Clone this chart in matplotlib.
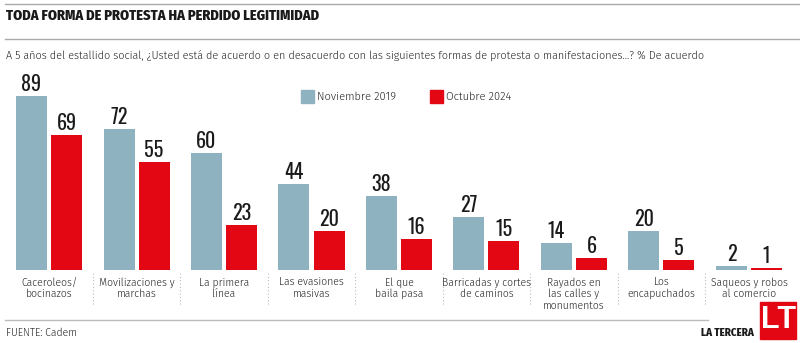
import matplotlib
matplotlib.use("Agg")
import matplotlib.pyplot as plt
import numpy as np
from matplotlib.patches import Rectangle

categories = ["Caceroleos/\nbocinazos", "Movilizaciones y\nmarchas", "La primera\nlínea",
              "Las evasiones\nmasivas", "El que\nbaila pasa", "Barricadas y cortes\nde caminos",
              "Rayados en\nlas calles y\nmonumentos", "Los\nencapuchados",
              "Saqueos y robos\nal comercio"]
nov_2019 = [89, 72, 60, 44, 38, 27, 14, 20, 2]
oct_2024 = [69, 55, 23, 20, 16, 15, 6, 5, 1]
series_names = ["Noviembre 2019", "Octubre 2024"]

BLUE = "#8fb2c0"
RED = "#e30613"
NUM_FONT = ["Oswald", "Roboto Condensed", "Liberation Sans Narrow", "DejaVu Sans"]
TITLE_FONT = ["Fira Sans Condensed", "Roboto Condensed", "Open Sans Condensed", "DejaVu Sans"]
BODY_FONT = ["Fira Sans", "Source Sans 3", "Source Sans Pro", "Lato", "DejaVu Sans"]

W, H = 800, 343
fig = plt.figure(figsize=(W / 100, H / 100), dpi=100)

def fx(px):
    return px / W

def fy(py):
    return 1 - py / H

# header
fig.add_artist(plt.Line2D([fx(5), 1], [fy(4), fy(4)], color="#aaaaaa", lw=1))
fig.text(fx(6), fy(16), "TODA FORMA DE PROTESTA HA PERDIDO LEGITIMIDAD",
         fontsize=10.3, fontweight=800, color="#1a1a1a", va="center",
         family=TITLE_FONT)
fig.add_artist(plt.Line2D([fx(5), 1], [fy(39), fy(39)], color="#aaaaaa", lw=1))
fig.text(fx(6), fy(56),
         "A 5 años del estallido social, ¿Usted está de acuerdo o en desacuerdo con las siguientes "
         "formas de protesta o manifestaciones...? % De acuerdo",
         fontsize=7.8, fontweight=300, color="#222222", va="center", family=BODY_FONT)

# bars
pitch = 87.5
x0 = 49
ax = fig.add_axes([0, 73 / H, 1, 195.5 / H])
ax.set_xlim(-x0 / pitch, (W - x0) / pitch)
ax.set_ylim(0, 100)
ax.axis("off")

x = np.arange(len(categories))
bw = 31 / pitch
off = 17.5 / pitch
ax.bar(x - off, nov_2019, bw, color=BLUE, label=series_names[0])
ax.bar(x + off, oct_2024, bw, color=RED, label=series_names[1])

for i in range(len(categories)):
    ax.annotate(str(nov_2019[i]), (x[i] - off, nov_2019[i]), xytext=(0, 1.5),
                textcoords="offset points", ha="center", va="bottom",
                fontsize=14.5, fontweight=300, color="#1a1a1a", family=NUM_FONT)
    ax.annotate(str(oct_2024[i]), (x[i] + off, oct_2024[i]), xytext=(0, 1.5),
                textcoords="offset points", ha="center", va="bottom",
                fontsize=14.5, fontweight=300, color="#1a1a1a", family=NUM_FONT)
    fig.text(fx(x0 + pitch * i), fy(277), categories[i], ha="center", va="top",
             fontsize=7.5, fontweight=300, color="#222222", linespacing=1.12,
             family=BODY_FONT)

# dotted separators
for i in range(len(categories) - 1):
    xs = fx(x0 + pitch * (i + 0.5))
    fig.add_artist(plt.Line2D([xs, xs], [fy(273), fy(306)], color="#bbbbbb",
                              lw=0.8, ls=(0, (1, 2))))

# legend
for (lx, col, name) in [(301, BLUE, series_names[0]), (430, RED, series_names[1])]:
    fig.add_artist(Rectangle((fx(lx), fy(103)), 13 / W, 13 / H, color=col,
                             transform=fig.transFigure))
    fig.text(fx(lx + 16), fy(96.5), name, fontsize=8, fontweight=300, color="#222222",
             va="center", family=BODY_FONT)

# footer
fig.add_artist(plt.Line2D([fx(5), fx(708)], [fy(320), fy(320)], color="#bbbbbb", lw=1))
fig.text(fx(6), fy(333), "FUENTE: Cadem", fontsize=7.5, fontweight=300, color="#222222",
         va="center", family=BODY_FONT)
fig.text(fx(754), fy(333), "LA TERCERA", fontsize=7.8, fontweight=800,
         color="#1a1a1a", va="center", ha="right", family=TITLE_FONT)
fig.add_artist(Rectangle((fx(760), fy(339)), 36 / W, 37 / H, color=RED,
                         transform=fig.transFigure))
fig.text(fx(778.5), fy(320), "LT", fontsize=22, fontweight="bold", color="white",
         ha="center", va="center", family=["Liberation Sans", "DejaVu Sans"])

fig.savefig("out.png", dpi=100)
